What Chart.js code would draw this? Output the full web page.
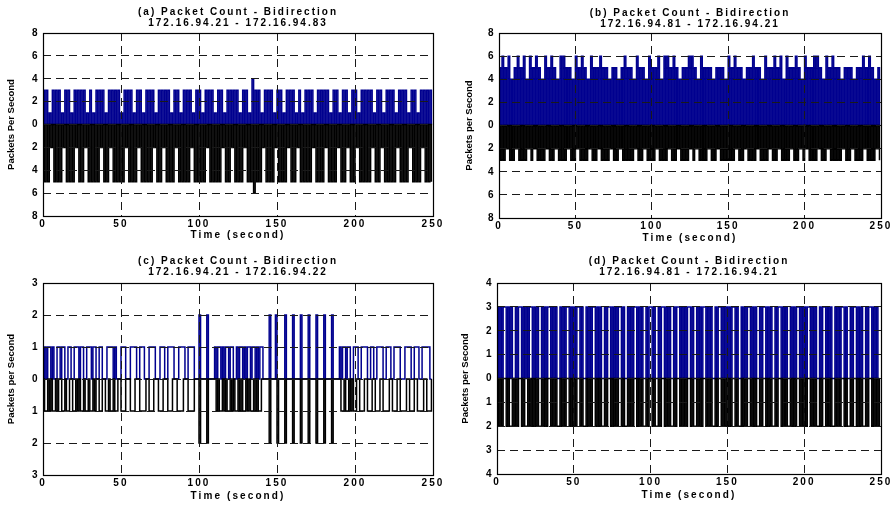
<!DOCTYPE html>
<html>
<head>
<meta charset="utf-8">
<script src="https://cdn.jsdelivr.net/npm/chart.js@4.4.1/dist/chart.umd.min.js"></script>
<style>
  html, body { margin: 0; padding: 0; background: #fff; }
  #wrap { position: relative; width: 895px; height: 505px; overflow: hidden; background: #fff; }
  canvas { position: absolute; }
</style>
</head>
<body>
<div id="wrap">
  <canvas id="panelA" width="445" height="250" style="left:0px;top:0px"></canvas>
  <canvas id="panelB" width="450" height="250" style="left:445px;top:0px"></canvas>
  <canvas id="panelC" width="445" height="255" style="left:0px;top:250px"></canvas>
  <canvas id="panelD" width="450" height="255" style="left:445px;top:250px"></canvas>
</div>
<script>
// Time axis: one sample per second
const seconds = Array.from({ length: 250 }, (_, i) => i);
const timeTicks = [0, 50, 100, 150, 200, 250];
const ticks8 = [-8, -6, -4, -2, 0, 2, 4, 6, 8];
const ticks3 = [-3, -2, -1, 0, 1, 2, 3];
const ticks4 = [-4, -3, -2, -1, 0, 1, 2, 3, 4];

const titleA = ['(a) Packet Count - Bidirection', '172.16.94.21 - 172.16.94.83'];
const titleB = ['(b) Packet Count - Bidirection', '172.16.94.81 - 172.16.94.21'];
const titleC = ['(c) Packet Count - Bidirection', '172.16.94.21 - 172.16.94.22'];
const titleD = ['(d) Packet Count - Bidirection', '172.16.94.81 - 172.16.94.21'];

// Packets per second, first host -> second host (drawn upward)
const outA = [
  3,0,3,0,1,0,3,0,3,0,3,0,1,0,3,0,3,0,1,0,3,0,3,0,3,0,3,0,1,0,3,0,1,0,3,0,3,0,3,0,1,0,3,0,3,0,3,0,3,0,
  1,0,3,0,3,0,3,0,1,0,3,0,3,0,1,0,3,0,3,0,3,0,1,0,3,0,3,0,3,0,3,0,1,0,3,0,3,0,1,0,3,0,3,0,3,0,1,0,3,0,
  3,0,1,0,3,0,3,0,3,0,1,0,3,0,3,0,1,0,3,0,3,0,3,0,3,0,1,0,3,0,3,0,1,0,4,0,3,0,3,0,1,0,3,0,3,0,3,0,1,0,
  3,0,3,0,1,0,3,0,3,0,3,0,1,0,3,0,1,0,3,0,3,0,3,0,1,0,3,0,3,0,3,0,3,0,1,0,3,0,3,0,1,0,3,0,3,0,1,0,3,0,
  3,0,1,0,3,0,3,0,3,0,3,0,1,0,3,0,3,0,1,0,3,0,3,0,3,0,1,0,3,0,3,0,3,0,1,0,3,0,3,0,1,0,3,0,3,0,3,0,3,0
];
// Packets per second, second host -> first host (drawn downward)
const backA = [
  0,5,0,5,0,2,0,5,0,5,0,5,0,2,0,5,0,5,0,5,0,2,0,5,0,5,0,2,0,5,0,5,0,5,0,5,0,2,0,5,0,5,0,2,0,5,0,5,0,5,
  0,5,0,2,0,5,0,5,0,5,0,2,0,5,0,5,0,5,0,5,0,2,0,5,0,5,0,2,0,5,0,5,0,5,0,2,0,5,0,5,0,5,0,5,0,2,0,5,0,5,
  0,5,0,5,0,2,0,5,0,5,0,5,0,5,0,2,0,5,0,5,0,2,0,5,0,5,0,5,0,2,0,5,0,5,0,6,0,5,0,5,0,2,0,5,0,5,0,5,0,2,
  0,5,0,5,0,5,0,2,0,5,0,5,0,2,0,5,0,5,0,5,0,5,0,2,0,5,0,5,0,5,0,2,0,5,0,5,0,5,0,2,0,5,0,5,0,2,0,5,0,5,
  0,2,0,5,0,5,0,5,0,5,0,2,0,5,0,5,0,2,0,5,0,5,0,5,0,5,0,2,0,5,0,5,0,5,0,2,0,5,0,5,0,5,0,2,0,5,0,5,0,5
];

const outB = [
  5,0,6,0,5,0,6,0,4,0,5,0,6,0,5,0,6,0,4,0,6,0,5,0,6,0,5,0,4,0,6,0,5,0,6,0,5,0,4,0,6,0,6,0,5,0,5,0,4,0,
  6,0,5,0,6,0,5,0,4,0,6,0,5,0,5,0,6,0,5,0,5,0,4,0,5,0,5,0,4,0,5,0,6,0,5,0,5,0,4,0,6,0,5,0,5,0,4,0,6,0,
  5,0,5,0,6,0,4,0,6,0,6,0,5,0,6,0,5,0,4,0,5,0,5,0,6,0,6,0,5,0,4,0,6,0,5,0,5,0,5,0,4,0,5,0,5,0,5,0,4,0,
  6,0,5,0,6,0,5,0,5,0,4,0,5,0,5,0,6,0,5,0,5,0,4,0,6,0,5,0,5,0,6,0,5,0,6,0,4,0,6,0,5,0,5,0,6,0,5,0,4,0,
  6,0,5,0,5,0,6,0,6,0,5,0,4,0,6,0,5,0,6,0,5,0,5,0,4,0,5,0,5,0,5,0,4,0,5,0,5,0,6,0,5,0,6,0,5,0,4,0,5,0
];
const backB = [
  0,3,0,3,0,2,0,3,0,3,0,2,0,3,0,3,0,3,0,2,0,3,0,2,0,3,0,3,0,3,0,2,0,3,0,3,0,2,0,3,0,3,0,3,0,2,0,3,0,3,
  0,2,0,3,0,3,0,3,0,2,0,3,0,3,0,2,0,3,0,3,0,3,0,2,0,3,0,3,0,2,0,3,0,3,0,3,0,3,0,2,0,3,0,3,0,2,0,3,0,3,
  0,3,0,2,0,3,0,3,0,3,0,2,0,3,0,3,0,2,0,3,0,3,0,3,0,2,0,3,0,2,0,3,0,3,0,3,0,2,0,3,0,3,0,2,0,3,0,3,0,3,
  0,3,0,3,0,2,0,3,0,3,0,2,0,3,0,3,0,3,0,2,0,3,0,3,0,3,0,2,0,3,0,3,0,2,0,3,0,3,0,3,0,2,0,3,0,3,0,2,0,3,
  0,2,0,3,0,3,0,3,0,2,0,3,0,3,0,2,0,3,0,3,0,3,0,3,0,2,0,3,0,3,0,2,0,3,0,3,0,3,0,2,0,3,0,3,0,3,0,2,0,3
];

const outC = [
  0,1,0,1,1,0,1,0,0,1,1,0,1,1,0,0,1,1,0,0,1,1,1,0,1,
  1,0,0,1,1,1,0,1,1,0,0,1,1,0,0,0,1,1,1,1,0,1,0,0,0,
  1,1,1,0,0,0,1,1,1,1,0,0,1,1,1,0,0,0,1,1,1,1,0,0,0,
  1,1,1,0,0,1,1,1,1,0,0,0,1,1,1,1,0,0,1,1,1,1,0,0,0,
  2,0,0,0,0,2,0,0,0,0,1,0,1,1,0,1,0,1,1,0,1,1,0,0,1,
  0,1,1,0,1,0,1,1,0,1,1,0,1,0,1,1,0,0,0,0,2,0,0,0,2,
  0,0,0,0,0,2,0,0,0,0,2,0,0,0,0,2,0,0,0,0,2,0,0,0,0,
  2,0,0,0,0,2,0,0,0,0,2,0,0,0,0,1,0,1,1,0,1,1,0,0,1,
  1,1,0,0,1,1,1,1,0,0,1,1,0,0,1,1,1,1,0,0,1,1,1,0,0,
  1,1,1,1,0,0,0,1,1,1,1,0,0,1,1,1,0,0,1,1,1,1,1,0,0
];
const backC = [
  0,1,1,0,1,0,1,1,0,1,0,0,1,1,0,1,1,0,0,1,1,0,1,0,1,
  1,0,1,1,0,1,1,0,1,0,0,1,1,0,0,1,1,0,1,1,0,1,1,0,0,
  1,1,1,0,0,0,1,1,1,0,0,0,1,1,1,1,0,0,1,1,1,0,0,0,1,
  1,1,0,0,0,1,1,1,0,0,0,1,1,1,1,0,0,0,1,1,1,1,0,0,0,
  2,0,0,0,0,2,0,0,0,0,0,1,0,1,1,0,1,0,1,1,0,1,0,1,1,
  0,1,0,1,1,0,1,0,1,1,0,1,0,1,1,0,0,0,0,0,2,0,0,0,0,
  2,0,0,0,0,2,0,0,0,0,2,0,0,0,0,2,0,0,0,0,2,0,0,0,0,
  2,0,0,0,0,2,0,0,0,0,2,0,0,0,0,0,1,1,0,1,1,0,1,0,1,
  1,0,0,1,1,1,0,0,1,1,1,0,0,1,1,1,0,0,1,1,1,1,0,0,1,
  1,1,0,0,1,1,1,1,0,0,1,1,1,0,0,1,1,1,1,0,0,1,1,1,0
];

const outD = [
  3,0,3,0,3,3,0,3,0,3,0,0,3,0,3,3,0,3,0,3,0,3,3,0,3,
  0,3,0,0,3,0,3,0,3,3,0,3,0,3,0,0,3,0,3,0,3,3,0,3,0,
  3,0,3,3,0,3,0,0,3,0,3,0,3,3,0,3,0,3,0,0,3,0,3,3,0,
  3,0,3,0,3,3,0,3,0,0,3,0,3,0,3,3,0,3,0,3,0,0,3,0,3,
  3,0,3,0,0,3,0,3,3,0,3,0,3,0,0,3,0,3,3,0,3,0,3,0,3,
  3,0,3,0,0,3,0,3,0,3,3,0,3,0,3,0,0,3,0,3,3,0,3,0,3,
  0,3,0,3,3,0,3,0,0,3,0,3,0,3,3,0,3,0,3,0,0,3,0,3,3,
  0,3,0,3,0,0,3,0,3,3,0,3,0,3,0,0,3,0,3,0,3,3,0,3,0,
  3,0,3,3,0,3,0,3,0,0,3,0,3,3,0,3,0,3,0,0,3,0,3,0,3,
  3,0,3,0,0,3,0,3,3,0,3,0,3,0,0,3,0,3,3,0,3,0,3,0,0
];
const backD = [
  0,2,0,2,0,0,2,0,2,2,0,2,0,2,0,0,2,0,2,2,0,2,0,2,0,
  2,0,2,2,0,2,0,2,0,0,2,0,2,0,2,2,0,2,0,2,0,0,2,0,2,
  0,2,0,0,2,0,2,2,0,2,0,2,0,0,2,0,2,0,2,2,0,2,0,0,2,
  0,2,0,2,0,0,2,0,2,2,0,2,0,2,0,0,2,0,2,0,2,2,0,2,0,
  0,2,0,2,2,0,2,0,0,2,0,2,0,2,2,0,2,0,0,2,0,2,0,2,0,
  0,2,0,2,2,0,2,0,2,0,0,2,0,2,0,2,2,0,2,0,0,2,0,2,0,
  2,0,2,0,0,2,0,2,2,0,2,0,2,0,0,2,0,2,0,2,2,0,2,0,0,
  2,0,2,0,2,2,0,2,0,0,2,0,2,0,2,2,0,2,0,2,0,0,2,0,2,
  0,2,0,0,2,0,2,0,2,2,0,2,0,0,2,0,2,0,2,2,0,2,0,2,0,
  0,2,0,2,2,0,2,0,0,2,0,2,0,2,2,0,2,0,0,2,0,2,0,2,0
];

const FONT = "'Liberation Sans', Arial, Helvetica, sans-serif";
const BLUE = '#00008f';
const INK = '#000000';
const GRID = '#1a1a1a';
const TRACE_WIDTH = 1.5;

// Linear scale that draws its text with extra letter spacing
class SpacedLinearScale extends Chart.LinearScale {
  draw(area) {
    const ctx = this.ctx;
    ctx.save();
    ctx.letterSpacing = (this.options.spacing || 0) + 'px';
    super.draw(area);
    ctx.restore();
  }
}
SpacedLinearScale.id = 'spacedLinear';
SpacedLinearScale.defaults = Chart.LinearScale.defaults;
Chart.register(SpacedLinearScale);

// Spaced lettering for the chart title
const titleSpacing = {
  id: 'titleSpacing',
  beforeDraw(chart) { chart.ctx.letterSpacing = '2px'; },
  afterDraw(chart) { chart.ctx.letterSpacing = '0px'; }
};

// Solid box around the plotting area
const frameBox = {
  id: 'frameBox',
  afterDraw(chart) {
    const { ctx, chartArea: a } = chart;
    ctx.save();
    ctx.strokeStyle = INK;
    ctx.lineWidth = 1.2;
    ctx.strokeRect(Math.round(a.left) + 0.5, Math.round(a.top) + 0.5,
                   Math.round(a.right - a.left), Math.round(a.bottom - a.top));
    ctx.restore();
  }
};

function makePanel(id, g, title, yLabel, yTicks, outVals, backVals) {
  const yMax = yTicks[yTicks.length - 1];
  const lh = 11.2;
  return new Chart(document.getElementById(id), {
    type: 'line',
    data: {
      datasets: [
        {
          data: seconds.map((t, i) => ({ x: t, y: -backVals[i] })),
          borderColor: INK, borderWidth: TRACE_WIDTH, pointRadius: 0, stepped: true, fill: false
        },
        {
          data: seconds.map((t, i) => ({ x: t, y: outVals[i] })),
          borderColor: BLUE, borderWidth: TRACE_WIDTH, pointRadius: 0, stepped: true, fill: false
        }
      ]
    },
    options: {
      responsive: false,
      animation: false,
      devicePixelRatio: 1,
      events: [],
      layout: { padding: { left: 0, top: 0, right: g.w - g.r, bottom: 0 } },
      plugins: {
        legend: { display: false },
        tooltip: { enabled: false },
        title: {
          display: true,
          text: title,
          color: INK,
          fullSize: false,
          font: { family: FONT, size: 10, weight: 'bold', lineHeight: lh / 10 },
          padding: { top: g.tTop, bottom: g.t - 2 * lh - g.tTop }
        }
      },
      scales: {
        x: {
          type: 'spacedLinear',
          spacing: 2.1,
          min: 0, max: 250,
          afterBuildTicks: s => { s.ticks = timeTicks.map(v => ({ value: v })); },
          afterFit: s => { s.height = g.h - g.b; },
          ticks: {
            z: 1, padding: 2, maxRotation: 0, autoSkip: false, color: INK,
            font: { family: FONT, size: 10, weight: 'bold' }
          },
          grid: { color: GRID, lineWidth: 1, drawTicks: false },
          border: { display: false, dash: [8, 5] },
          title: {
            display: true, text: 'Time (second)', color: INK,
            font: { family: FONT, size: 10, weight: 'bold' },
            padding: { top: 0, bottom: g.xPad }
          }
        },
        y: {
          type: 'spacedLinear',
          spacing: 0,
          min: -yMax, max: yMax,
          afterBuildTicks: s => { s.ticks = yTicks.map(v => ({ value: v })); },
          afterFit: s => { s.width = g.l; },
          ticks: {
            z: 1, padding: 5.5, color: INK,
            font: { family: FONT, size: 10, weight: 'bold' },
            callback: v => String(Math.abs(v))
          },
          grid: { color: GRID, lineWidth: 1, drawTicks: false },
          border: { display: false, dash: [8, 5] },
          title: {
            display: true, text: yLabel, color: INK,
            font: { family: FONT, size: 9.5, weight: 'bold' },
            padding: { top: g.yPad, bottom: 0 }
          }
        }
      }
    },
    plugins: [titleSpacing, frameBox]
  });
}

makePanel('panelA', { w: 445, h: 250, l: 43, r: 433, t: 33, b: 216, tTop: 6.7, yPad: 6, xPad: 9 },
  titleA, 'Packets Per Second', ticks8, outA, backA);
makePanel('panelB', { w: 450, h: 250, l: 54, r: 436, t: 33, b: 218, tTop: 7.2, yPad: 18.3, xPad: 5.7 },
  titleB, 'Packets per Second', ticks8, outB, backB);
makePanel('panelC', { w: 445, h: 255, l: 43, r: 433, t: 33, b: 225, tTop: 5.4, yPad: 6, xPad: 3 },
  titleC, 'Packets per Second', ticks3, outC, backC);
makePanel('panelD', { w: 450, h: 255, l: 52, r: 436, t: 33, b: 224, tTop: 5.4, yPad: 15, xPad: 4 },
  titleD, 'Packets per Second', ticks4, outD, backD);
</script>
</body>
</html>
